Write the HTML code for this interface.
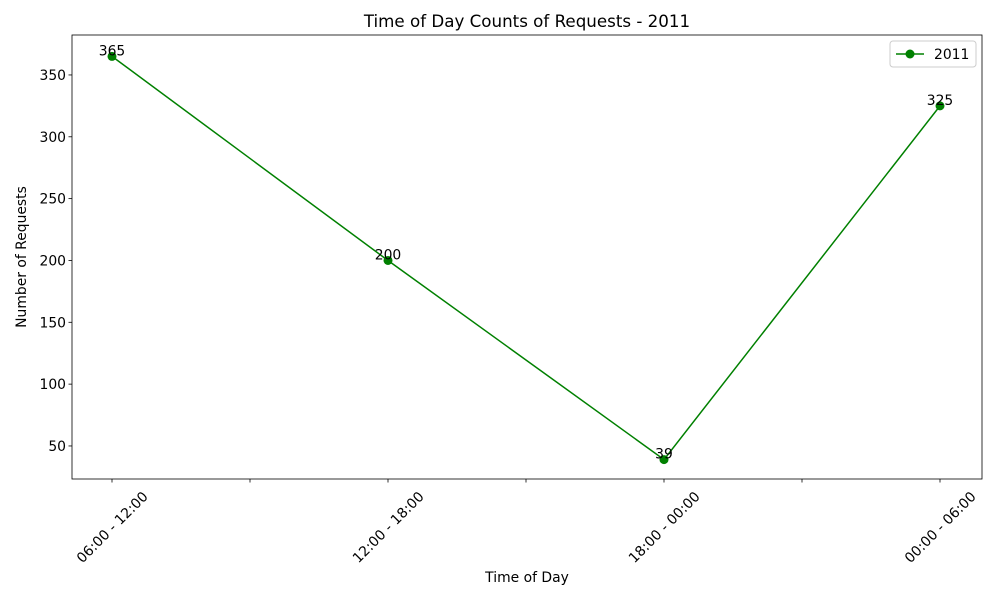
<!DOCTYPE html>
<html><head><meta charset="utf-8"><style>
body{margin:0;background:#fff;font-family:"Liberation Sans","DejaVu Sans",sans-serif;}
text{font-family:"DejaVu Sans","Liberation Sans",sans-serif;}
</style></head><body>
<svg id="chart" width="1000" height="600" xmlns="http://www.w3.org/2000/svg"></svg>
<script>
const categories=["06:00 - 12:00","12:00 - 18:00","18:00 - 00:00","00:00 - 06:00"];
const values=[365,200,39,325];
const yTicks=[50,100,150,200,250,300,350];
const seriesName="2011";
const svg=document.getElementById('chart');
const NS="http://www.w3.org/2000/svg";
const L=72,R=982,T=35,B=479;
const FS=13.9;
const x=i=>112+i*276;
const y=v=>507.8-v*1.2367;
function mk(tag,attrs,parent){const e=document.createElementNS(NS,tag);for(const k in attrs)e.setAttribute(k,attrs[k]);(parent||svg).appendChild(e);return e;}
const title=mk('text',{x:527,y:27,'text-anchor':'middle','font-size':16.7,fill:'#000'});


title.textContent="Time of Day Counts of Requests - 2011";
const frame=mk('rect',{x:L,y:T,width:R-L,height:B-T,fill:'none',stroke:'#000','stroke-width':0.8});


yTicks.forEach(v=>{
 const g=mk('g',{});
 
 
 mk('line',{x1:L-3.5,x2:L,y1:y(v),y2:y(v),stroke:'#000','stroke-width':0.8},g);
 const t=mk('text',{x:L-6,y:y(v)+5,'text-anchor':'end','font-size':FS},g);t.textContent=v;
});
for(let i=0;i<=3;i+=0.5){
 const tk=mk('line',{x1:x(i),x2:x(i),y1:B,y2:B+3.5,stroke:'#000','stroke-width':0.8});
 
 
}
categories.forEach((c,i)=>{
 const cx=x(i),cy=527;
 const t=mk('text',{x:cx,y:cy+5,'text-anchor':'middle','font-size':FS,transform:`rotate(-45 ${cx} ${cy})`});
 
 
 t.textContent=c;
});
const yl=mk('text',{x:26,y:257,'text-anchor':'middle','font-size':FS,transform:'rotate(-90 26 257)'});


yl.textContent="Number of Requests";
const xl=mk('text',{x:527,y:582,'text-anchor':'middle','font-size':FS});


xl.textContent="Time of Day";
const line=mk('polyline',{points:values.map((v,i)=>x(i)+','+y(v)).join(' '),fill:'none',stroke:'#008000','stroke-width':1.5});


values.forEach((v,i)=>{
 const p=mk('circle',{cx:x(i),cy:y(v),r:4.5,fill:'#008000'});
 
 
 const t=mk('text',{x:x(i),y:y(v)-1,'text-anchor':'middle','font-size':FS});
 
 
 t.textContent=v;
});
const lg=mk('g',{});


mk('rect',{x:890,y:41,width:86,height:26,rx:3,fill:'#fff',stroke:'#ccc','stroke-width':1},lg);
mk('line',{x1:896,x2:924,y1:54,y2:54,stroke:'#008000','stroke-width':1.5},lg);
mk('circle',{cx:910,cy:54,r:4.5,fill:'#008000'},lg);
const lt=mk('text',{x:934,y:59,'font-size':FS},lg);lt.textContent=seriesName;
</script>
</body></html>
